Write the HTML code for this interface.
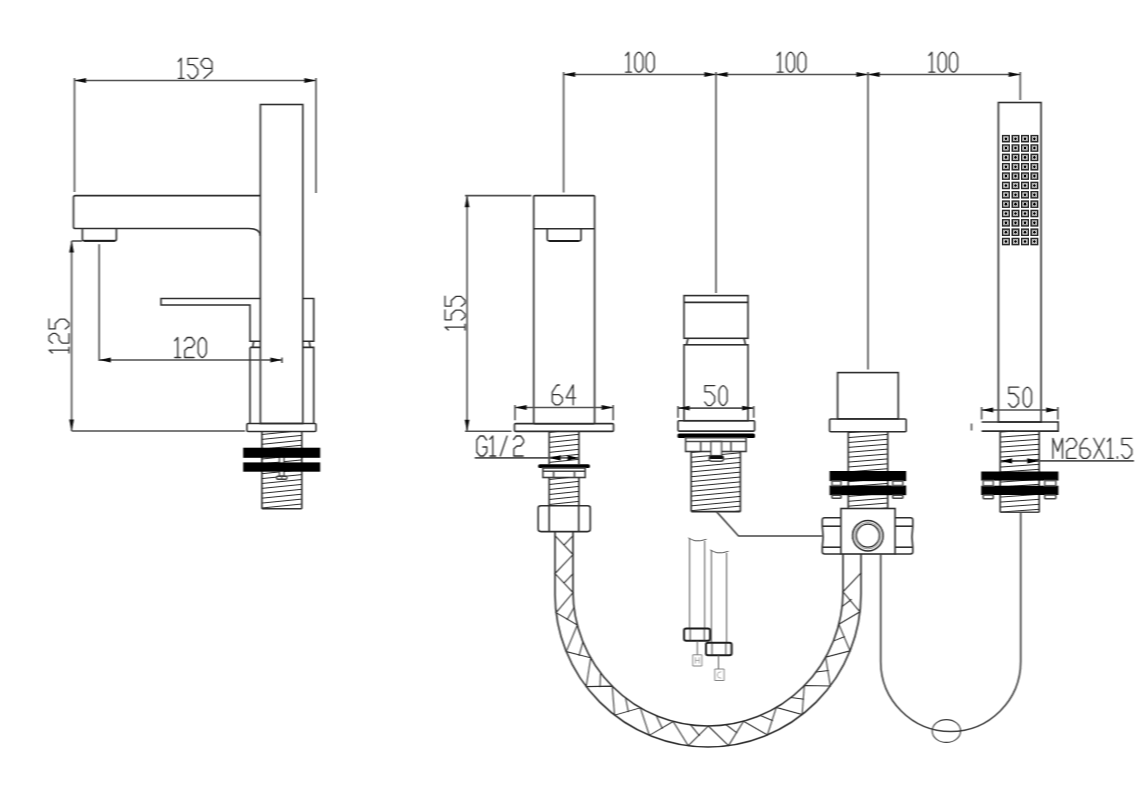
<!DOCTYPE html>
<html><head><meta charset="utf-8"><style>
html,body{margin:0;padding:0;background:#fff;width:1148px;height:793px;overflow:hidden;font-family:"Liberation Sans",sans-serif;}
</style></head><body>
<div style="width:1148px;height:793px">
<svg width="1148" height="793" viewBox="0 0 1148 793" style="display:block">
<defs><filter id="hb" filterUnits="userSpaceOnUse" x="0" y="0" width="1148" height="793"><feConvolveMatrix order="3 1" kernelMatrix="0.25 0.5 0.25" divisor="1" edgeMode="none" preserveAlpha="false"/></filter></defs>
<rect width="1148" height="793" fill="#fff"/>
<g filter="url(#hb)">
<line x1="74.5" y1="80.5" x2="316" y2="80.5" stroke="#515151" stroke-width="1.6"/>
<path d="M74.5 80.5 L86.1 78.1 L86.1 82.9 Z" fill="#111"/>
<path d="M316 80.5 L304.4 82.9 L304.4 78.1 Z" fill="#111"/>
<line x1="74.5" y1="78" x2="74.5" y2="192" stroke="#515151" stroke-width="1.6"/>
<line x1="316" y1="78" x2="316" y2="193" stroke="#515151" stroke-width="1.6"/>
<g transform="translate(178.3 58.3) scale(1)" stroke="#303030" stroke-width="1.3" fill="none" stroke-linecap="round" stroke-linejoin="round"><path transform="translate(0 0)" d="M0 3.3L2.9 0V20M0 20H5.8"/><path transform="translate(9.3 0)" d="M10.3 0H0.4V6.3H5.9L10.1 10.8V16L6.3 20H3.2L0.2 16.3"/><path transform="translate(22.8 0)" d="M10.9 10H3.5L0 6.3V3.7L3.3 0H7.2L10.9 3.7V12.9L3 20"/></g>
<rect x="260.4" y="104.5" width="42.4" height="319" stroke="#2e2e2e" stroke-width="1.6" fill="none" rx="0"/>
<path d="M260.4 195.6H75.3Q73.5 195.6 73.5 197.4V226.7Q73.5 228.5 75.3 228.5H249Q260 228.5 260.4 236" stroke="#2e2e2e" stroke-width="1.6" fill="none" />
<path d="M82.4 228.5V239Q82.4 240.8 84.2 240.8H114.6Q116.4 240.8 116.4 239V228.5" stroke="#2e2e2e" stroke-width="1.6" fill="none" />
<line x1="84" y1="240.8" x2="115" y2="240.8" stroke="#1a1a1a" stroke-width="2.0"/>
<line x1="71.6" y1="241" x2="71.6" y2="431" stroke="#515151" stroke-width="1.6"/>
<path d="M71.6 241 L74 252.6 L69.2 252.6 Z" fill="#111"/>
<path d="M71.6 431 L69.2 419.4 L74 419.4 Z" fill="#111"/>
<line x1="71.6" y1="241" x2="82" y2="241" stroke="#515151" stroke-width="1.6"/>
<line x1="71.6" y1="431" x2="245" y2="431" stroke="#515151" stroke-width="1.6"/>
<g transform="translate(49 353) rotate(-90) scale(1)" stroke="#303030" stroke-width="1.3" fill="none" stroke-linecap="round" stroke-linejoin="round"><path transform="translate(0 0)" d="M0 3.3L2.9 0V20M0 20H5.8"/><path transform="translate(9.5 0)" d="M0.2 3.5L2.9 0H7.3L10.2 3.9V6.4L7.3 10H3.5L0.4 13V20H9.8"/><path transform="translate(23.7 0)" d="M10.3 0H0.4V6.3H5.9L10.1 10.8V16L6.3 20H3.2L0.2 16.3"/></g>
<line x1="99.2" y1="360" x2="282" y2="360" stroke="#515151" stroke-width="1.6"/>
<path d="M99.2 360 L110.8 357.6 L110.8 362.4 Z" fill="#111"/>
<path d="M282 360 L270.4 362.4 L270.4 357.6 Z" fill="#111"/>
<line x1="99.2" y1="244.3" x2="99.2" y2="361" stroke="#515151" stroke-width="1.6"/>
<line x1="282" y1="357.5" x2="282" y2="363" stroke="#515151" stroke-width="1.6"/>
<g transform="translate(174.8 337.5) scale(1)" stroke="#303030" stroke-width="1.3" fill="none" stroke-linecap="round" stroke-linejoin="round"><path transform="translate(0 0)" d="M0 3.3L2.9 0V20M0 20H5.8"/><path transform="translate(9.5 0)" d="M0.2 3.5L2.9 0H7.3L10.2 3.9V6.4L7.3 10H3.5L0.4 13V20H9.8"/><path transform="translate(23.4 0)" d="M4.1 0Q6.3 0.2 8.2 4.8V15.2Q6.3 19.8 4.1 20Q1.9 19.8 0 15.2V4.8Q1.9 0.2 4.1 0Z"/></g>
<path d="M260.4 298.5H161V305H250V341.2H260.4M250 347.4H260.4M250 347.4V423.5" stroke="#2e2e2e" stroke-width="1.6" fill="none" />
<line x1="253.6" y1="341.8" x2="252.8" y2="347" stroke="#2e2e2e" stroke-width="1.6"/>
<path d="M302.8 298.5H313.7V341.2H302.8M302.8 347.4H313.7V423.5" stroke="#2e2e2e" stroke-width="1.6" fill="none" />
<line x1="309.3" y1="341.8" x2="310.1" y2="347" stroke="#2e2e2e" stroke-width="1.6"/>
<rect x="246.9" y="423.5" width="69.1" height="8" stroke="#2e2e2e" stroke-width="1.6" fill="none" rx="1.2"/>
<g stroke="#2a2a2a" stroke-width="1.0">
<line x1="261.9" y1="434.5" x2="291.82" y2="431.5"/>
<line x1="261.9" y1="439.4" x2="301.8" y2="435.4"/>
<line x1="261.9" y1="444.3" x2="301.8" y2="440.3"/>
<line x1="261.9" y1="449.2" x2="301.8" y2="445.2"/>
<line x1="261.9" y1="454.1" x2="301.8" y2="450.1"/>
<line x1="261.9" y1="459" x2="301.8" y2="455"/>
<line x1="261.9" y1="463.9" x2="301.8" y2="459.9"/>
<line x1="261.9" y1="468.8" x2="301.8" y2="464.8"/>
<line x1="261.9" y1="473.7" x2="301.8" y2="469.7"/>
<line x1="261.9" y1="478.6" x2="301.8" y2="474.6"/>
<line x1="261.9" y1="483.5" x2="301.8" y2="479.5"/>
<line x1="261.9" y1="488.4" x2="301.8" y2="484.4"/>
<line x1="261.9" y1="493.3" x2="301.8" y2="489.3"/>
<line x1="261.9" y1="498.2" x2="301.8" y2="494.2"/>
<line x1="261.9" y1="503.1" x2="301.8" y2="499.1"/>
<line x1="261.9" y1="508" x2="301.8" y2="504"/>
</g>
<line x1="261.9" y1="431.5" x2="261.9" y2="508.8" stroke="#2e2e2e" stroke-width="1.6"/>
<line x1="301.8" y1="431.5" x2="301.8" y2="508.8" stroke="#2e2e2e" stroke-width="1.6"/>
<line x1="261.9" y1="508.8" x2="301.8" y2="508.8" stroke="#2e2e2e" stroke-width="1.6"/>
<rect x="279.5" y="455" width="4.3" height="21.3" fill="#fff" rx="0"/>
<rect x="279.5" y="455" width="4.3" height="21.3" stroke="#484848" stroke-width="1.6" fill="none" rx="0"/>
<rect x="276.7" y="476.3" width="10" height="3" fill="#fff" rx="1"/>
<rect x="276.7" y="476.3" width="10" height="3" stroke="#3f3f3f" stroke-width="1.6" fill="none" rx="1"/>
<line x1="281.7" y1="476.5" x2="281.7" y2="479.3" stroke="#5b5b5b" stroke-width="1.6"/>
<rect x="243.2" y="447.7" width="77" height="10.1" fill="#000" rx="0"/>
<rect x="243.2" y="462.4" width="77" height="9.3" fill="#000" rx="0"/>
<line x1="563.6" y1="74.5" x2="1020.3" y2="74.5" stroke="#515151" stroke-width="1.6"/>
<path d="M563.6 74.5 L575.2 72.1 L575.2 76.9 Z" fill="#111"/>
<path d="M716 74.5 L704.4 76.9 L704.4 72.1 Z" fill="#111"/>
<path d="M716 74.5 L727.6 72.1 L727.6 76.9 Z" fill="#111"/>
<path d="M868 74.5 L856.4 76.9 L856.4 72.1 Z" fill="#111"/>
<path d="M868 74.5 L879.6 72.1 L879.6 76.9 Z" fill="#111"/>
<path d="M1020.3 74.5 L1008.7 76.9 L1008.7 72.1 Z" fill="#111"/>
<line x1="563.6" y1="72" x2="563.6" y2="192.5" stroke="#515151" stroke-width="1.6"/>
<line x1="716" y1="72" x2="716" y2="293" stroke="#515151" stroke-width="1.6"/>
<line x1="868" y1="72" x2="868" y2="369.6" stroke="#515151" stroke-width="1.6"/>
<line x1="1020.3" y1="72" x2="1020.3" y2="100" stroke="#515151" stroke-width="1.6"/>
<g transform="translate(625.7 52.2) scale(1)" stroke="#303030" stroke-width="1.3" fill="none" stroke-linecap="round" stroke-linejoin="round"><path transform="translate(0 0)" d="M0 3.3L2.9 0V20M0 20H5.8"/><path transform="translate(9.1 0)" d="M4.1 0Q6.3 0.2 8.2 4.8V15.2Q6.3 19.8 4.1 20Q1.9 19.8 0 15.2V4.8Q1.9 0.2 4.1 0Z"/><path transform="translate(20.4 0)" d="M4.1 0Q6.3 0.2 8.2 4.8V15.2Q6.3 19.8 4.1 20Q1.9 19.8 0 15.2V4.8Q1.9 0.2 4.1 0Z"/></g>
<g transform="translate(777.3 52.2) scale(1)" stroke="#303030" stroke-width="1.3" fill="none" stroke-linecap="round" stroke-linejoin="round"><path transform="translate(0 0)" d="M0 3.3L2.9 0V20M0 20H5.8"/><path transform="translate(9.1 0)" d="M4.1 0Q6.3 0.2 8.2 4.8V15.2Q6.3 19.8 4.1 20Q1.9 19.8 0 15.2V4.8Q1.9 0.2 4.1 0Z"/><path transform="translate(20.4 0)" d="M4.1 0Q6.3 0.2 8.2 4.8V15.2Q6.3 19.8 4.1 20Q1.9 19.8 0 15.2V4.8Q1.9 0.2 4.1 0Z"/></g>
<g transform="translate(929 52.2) scale(1)" stroke="#303030" stroke-width="1.3" fill="none" stroke-linecap="round" stroke-linejoin="round"><path transform="translate(0 0)" d="M0 3.3L2.9 0V20M0 20H5.8"/><path transform="translate(9.1 0)" d="M4.1 0Q6.3 0.2 8.2 4.8V15.2Q6.3 19.8 4.1 20Q1.9 19.8 0 15.2V4.8Q1.9 0.2 4.1 0Z"/><path transform="translate(20.4 0)" d="M4.1 0Q6.3 0.2 8.2 4.8V15.2Q6.3 19.8 4.1 20Q1.9 19.8 0 15.2V4.8Q1.9 0.2 4.1 0Z"/></g>
<rect x="533.7" y="195.6" width="60.9" height="228.1" stroke="#2e2e2e" stroke-width="1.6" fill="none" rx="1"/>
<line x1="533.7" y1="228.7" x2="594.6" y2="228.7" stroke="#2e2e2e" stroke-width="1.6"/>
<path d="M547.3 228.7V239Q547.3 241 549.3 241H579Q581 241 581 239V228.7" stroke="#2e2e2e" stroke-width="1.6" fill="none" />
<line x1="549" y1="241" x2="579" y2="241" stroke="#1a1a1a" stroke-width="2.0"/>
<line x1="467.1" y1="195.6" x2="467.1" y2="431.3" stroke="#515151" stroke-width="1.6"/>
<path d="M467.1 195.6 L469.5 207.2 L464.7 207.2 Z" fill="#111"/>
<path d="M467.1 431.3 L464.7 419.7 L469.5 419.7 Z" fill="#111"/>
<line x1="465" y1="195.6" x2="531.4" y2="195.6" stroke="#515151" stroke-width="1.6"/>
<line x1="465" y1="431.3" x2="511.5" y2="431.3" stroke="#515151" stroke-width="1.6"/>
<g transform="translate(445 330) rotate(-90) scale(1)" stroke="#303030" stroke-width="1.3" fill="none" stroke-linecap="round" stroke-linejoin="round"><path transform="translate(0 0)" d="M0 3.3L2.9 0V20M0 20H5.8"/><path transform="translate(9.8 0)" d="M10.3 0H0.4V6.3H5.9L10.1 10.8V16L6.3 20H3.2L0.2 16.3"/><path transform="translate(23.5 0)" d="M10.3 0H0.4V6.3H5.9L10.1 10.8V16L6.3 20H3.2L0.2 16.3"/></g>
<rect x="514.5" y="423.6" width="99" height="7.8" stroke="#2e2e2e" stroke-width="1.6" fill="none" rx="1.2"/>
<line x1="515" y1="407.5" x2="613.2" y2="407.5" stroke="#515151" stroke-width="1.6"/>
<path d="M515 407.5 L526.6 405.1 L526.6 409.9 Z" fill="#111"/>
<path d="M613.2 407.5 L601.6 409.9 L601.6 405.1 Z" fill="#111"/>
<line x1="515" y1="405" x2="515" y2="420.2" stroke="#515151" stroke-width="1.6"/>
<line x1="613.2" y1="405" x2="613.2" y2="420.2" stroke="#515151" stroke-width="1.6"/>
<g transform="translate(552 384.8) scale(1)" stroke="#303030" stroke-width="1.3" fill="none" stroke-linecap="round" stroke-linejoin="round"><path transform="translate(0 0)" d="M7.4 0.2H5.6Q4.8 0.4 4.2 1.2L0.3 7.3V16.8L3.2 20H7.2L10.4 16.8V13L7.2 9.8H0.3"/><path transform="translate(14.2 0)" d="M7 20V0L0 13H9.5"/></g>
<g stroke="#2a2a2a" stroke-width="1.0">
<line x1="549.2" y1="432.4" x2="558.78" y2="431.4"/>
<line x1="549.2" y1="437.4" x2="578.9" y2="434.3"/>
<line x1="549.2" y1="442.4" x2="578.9" y2="439.3"/>
<line x1="549.2" y1="447.4" x2="578.9" y2="444.3"/>
<line x1="549.2" y1="452.4" x2="578.9" y2="449.3"/>
<line x1="549.2" y1="457.4" x2="578.9" y2="454.3"/>
<line x1="549.2" y1="462.4" x2="578.9" y2="459.3"/>
<line x1="578.9" y1="464.3" x2="578.9" y2="464.3"/>
</g>
<line x1="549.2" y1="431.4" x2="549.2" y2="464.3" stroke="#2e2e2e" stroke-width="1.6"/>
<line x1="578.9" y1="431.4" x2="578.9" y2="464.3" stroke="#2e2e2e" stroke-width="1.6"/>
<line x1="474.7" y1="457.9" x2="549.2" y2="457.9" stroke="#515151" stroke-width="1.6"/>
<line x1="549.2" y1="457.9" x2="578.9" y2="457.9" stroke="#515151" stroke-width="1.6"/>
<path d="M549.6 457.9 L560.6 455.3 L560.6 460.5 Z" fill="#000"/>
<path d="M578.5 457.9 L567.5 460.5 L567.5 455.3 Z" fill="#000"/>
<g transform="translate(476.8 436) scale(1)" stroke="#303030" stroke-width="1.3" fill="none" stroke-linecap="round" stroke-linejoin="round"><path transform="translate(0 0)" d="M9.8 4L6.8 0H3.2L0 4V16L3.2 20H6.8L10 16V11H6"/><path transform="translate(13.1 0)" d="M0 3.3L2.9 0V20M0 20H5.8"/><path transform="translate(23.5 0)" d="M0 20L6.8 0"/><path transform="translate(36.6 0)" d="M0.2 3.5L2.9 0H7.3L10.2 3.9V6.4L7.3 10H3.5L0.4 13V20H9.8"/></g>
<rect x="538.2" y="464.3" width="51.7" height="3.6" fill="#000" rx="1.5"/>
<rect x="542.9" y="468" width="42.3" height="9.5" stroke="#3f3f3f" stroke-width="1.6" fill="none" rx="0"/>
<line x1="542.9" y1="471.2" x2="585.2" y2="471.2" stroke="#484848" stroke-width="1.6"/>
<line x1="553.6" y1="471.2" x2="553.6" y2="477.5" stroke="#484848" stroke-width="1.6"/>
<line x1="574.5" y1="471.2" x2="574.5" y2="477.5" stroke="#484848" stroke-width="1.6"/>
<g stroke="#2a2a2a" stroke-width="1.0">
<line x1="549.2" y1="479.5" x2="568.36" y2="477.5"/>
<line x1="549.2" y1="484.5" x2="578.9" y2="481.4"/>
<line x1="549.2" y1="489.5" x2="578.9" y2="486.4"/>
<line x1="549.2" y1="494.5" x2="578.9" y2="491.4"/>
<line x1="549.2" y1="499.5" x2="578.9" y2="496.4"/>
<line x1="549.2" y1="504.5" x2="578.9" y2="501.4"/>
</g>
<line x1="549.2" y1="477.5" x2="549.2" y2="505.7" stroke="#2e2e2e" stroke-width="1.6"/>
<line x1="578.9" y1="477.5" x2="578.9" y2="505.7" stroke="#2e2e2e" stroke-width="1.6"/>
<rect x="538.2" y="505.7" width="52.1" height="25.9" stroke="#2e2e2e" stroke-width="1.6" fill="none" rx="2.5"/>
<line x1="549.2" y1="505.7" x2="549.2" y2="531.6" stroke="#2e2e2e" stroke-width="1.6"/>
<line x1="578.7" y1="505.7" x2="578.7" y2="531.6" stroke="#2e2e2e" stroke-width="1.6"/>
<rect x="684" y="295.6" width="64" height="42.7" stroke="#2e2e2e" stroke-width="1.6" fill="none" rx="0"/>
<line x1="684" y1="302.4" x2="748" y2="302.4" stroke="#2e2e2e" stroke-width="1.6"/>
<path d="M688 338.3L686.5 344.8M744 338.3L745.5 344.8" stroke="#2e2e2e" stroke-width="1.6" fill="none" />
<rect x="684" y="344.8" width="64" height="75.9" stroke="#2e2e2e" stroke-width="1.6" fill="none" rx="0"/>
<line x1="678" y1="408.1" x2="753.7" y2="408.1" stroke="#515151" stroke-width="1.6"/>
<path d="M678 408.1 L689.6 405.7 L689.6 410.5 Z" fill="#111"/>
<path d="M753.7 408.1 L742.1 410.5 L742.1 405.7 Z" fill="#111"/>
<line x1="678" y1="406" x2="678" y2="417.7" stroke="#515151" stroke-width="1.6"/>
<line x1="753.7" y1="406" x2="753.7" y2="417.7" stroke="#515151" stroke-width="1.6"/>
<g transform="translate(704.5 385.6) scale(1)" stroke="#303030" stroke-width="1.3" fill="none" stroke-linecap="round" stroke-linejoin="round"><path transform="translate(0 0)" d="M10.3 0H0.4V6.3H5.9L10.1 10.8V16L6.3 20H3.2L0.2 16.3"/><path transform="translate(14.5 0)" d="M4.1 0Q6.3 0.2 8.2 4.8V15.2Q6.3 19.8 4.1 20Q1.9 19.8 0 15.2V4.8Q1.9 0.2 4.1 0Z"/></g>
<rect x="678" y="420.7" width="76.6" height="10.4" stroke="#2e2e2e" stroke-width="1.6" fill="none" rx="1"/>
<rect x="677.5" y="433.6" width="77.5" height="4.3" fill="#000" rx="1.5"/>
<rect x="685.6" y="437.7" width="60.5" height="13.8" stroke="#3f3f3f" stroke-width="1.6" fill="none" rx="0"/>
<line x1="685.6" y1="441.5" x2="746.1" y2="441.5" stroke="#484848" stroke-width="1.6"/>
<line x1="700.7" y1="441.5" x2="700.7" y2="451.5" stroke="#484848" stroke-width="1.6"/>
<line x1="731" y1="441.5" x2="731" y2="451.5" stroke="#484848" stroke-width="1.6"/>
<g stroke="#2a2a2a" stroke-width="1.0">
<line x1="691.2" y1="452.5" x2="701.9" y2="451.5"/>
<line x1="691.2" y1="457.35" x2="740.4" y2="452.75"/>
<line x1="691.2" y1="462.2" x2="740.4" y2="457.6"/>
<line x1="691.2" y1="467.05" x2="740.4" y2="462.45"/>
<line x1="691.2" y1="471.9" x2="740.4" y2="467.3"/>
<line x1="691.2" y1="476.75" x2="740.4" y2="472.15"/>
<line x1="691.2" y1="481.6" x2="740.4" y2="477"/>
<line x1="691.2" y1="486.45" x2="740.4" y2="481.85"/>
<line x1="691.2" y1="491.3" x2="740.4" y2="486.7"/>
<line x1="691.2" y1="496.15" x2="740.4" y2="491.55"/>
<line x1="691.2" y1="501" x2="740.4" y2="496.4"/>
<line x1="691.2" y1="505.85" x2="740.4" y2="501.25"/>
<line x1="691.2" y1="510.7" x2="740.4" y2="506.1"/>
<line x1="733.45" y1="511.6" x2="740.4" y2="510.95"/>
</g>
<line x1="691.2" y1="451.5" x2="691.2" y2="511.6" stroke="#2e2e2e" stroke-width="1.6"/>
<line x1="740.4" y1="451.5" x2="740.4" y2="511.6" stroke="#2e2e2e" stroke-width="1.6"/>
<line x1="691.2" y1="511.6" x2="740.4" y2="511.6" stroke="#2e2e2e" stroke-width="1.6"/>
<rect x="711.1" y="441.5" width="10.4" height="14.2" fill="#fff" rx="0"/>
<rect x="711.1" y="441.5" width="10.4" height="14.2" stroke="#484848" stroke-width="1.6" fill="none" rx="0"/>
<rect x="709.3" y="455.7" width="14.1" height="5.6" fill="#fff" rx="2.5"/>
<rect x="709.3" y="455.7" width="14.1" height="5.6" stroke="#484848" stroke-width="1.6" fill="none" rx="2.5"/>
<rect x="709.3" y="455.7" width="14.1" height="3.4" fill="#111" rx="1.5"/>
<path d="M716.5 511.6L738.5 536H822.3" stroke="#484848" stroke-width="1.6" fill="none" />
<rect x="837.6" y="372.6" width="60.7" height="46.2" stroke="#2e2e2e" stroke-width="1.6" fill="none" rx="0"/>
<rect x="829.6" y="419" width="76.6" height="12.7" stroke="#2e2e2e" stroke-width="1.6" fill="none" rx="1"/>
<g stroke="#2a2a2a" stroke-width="1.0">
<line x1="848.3" y1="432.7" x2="860.61" y2="431.7"/>
<line x1="848.3" y1="437.6" x2="887.7" y2="434.4"/>
<line x1="848.3" y1="442.5" x2="887.7" y2="439.3"/>
<line x1="848.3" y1="447.4" x2="887.7" y2="444.2"/>
<line x1="848.3" y1="452.3" x2="887.7" y2="449.1"/>
<line x1="848.3" y1="457.2" x2="887.7" y2="454"/>
<line x1="848.3" y1="462.1" x2="887.7" y2="458.9"/>
<line x1="848.3" y1="467" x2="887.7" y2="463.8"/>
<line x1="848.3" y1="471.9" x2="887.7" y2="468.7"/>
<line x1="848.3" y1="476.8" x2="887.7" y2="473.6"/>
<line x1="848.3" y1="481.7" x2="887.7" y2="478.5"/>
<line x1="848.3" y1="486.6" x2="887.7" y2="483.4"/>
<line x1="848.3" y1="491.5" x2="887.7" y2="488.3"/>
<line x1="848.3" y1="496.4" x2="887.7" y2="493.2"/>
<line x1="848.3" y1="501.3" x2="887.7" y2="498.1"/>
<line x1="848.3" y1="506.2" x2="887.7" y2="503"/>
<line x1="880.31" y1="508.5" x2="887.7" y2="507.9"/>
</g>
<line x1="848.3" y1="431.7" x2="848.3" y2="508.5" stroke="#2e2e2e" stroke-width="1.6"/>
<line x1="887.7" y1="431.7" x2="887.7" y2="508.5" stroke="#2e2e2e" stroke-width="1.6"/>
<rect x="829.6" y="471" width="76.6" height="10.1" fill="#000" rx="0"/>
<rect x="829.6" y="485.5" width="76.6" height="9.7" fill="#000" rx="0"/>
<rect x="832" y="495.2" width="9" height="3" stroke="#484848" stroke-width="1.6" fill="none" rx="0.8"/>
<rect x="832" y="481.1" width="9" height="4.4" stroke="#5b5b5b" stroke-width="1.6" fill="none" rx="0"/>
<rect x="892.7" y="495.2" width="10.1" height="3" stroke="#484848" stroke-width="1.6" fill="none" rx="0.8"/>
<rect x="892.7" y="481.1" width="10.1" height="4.4" stroke="#5b5b5b" stroke-width="1.6" fill="none" rx="0"/>
<rect x="840.9" y="508.5" width="54.2" height="45.5" stroke="#2e2e2e" stroke-width="1.6" fill="none" rx="0"/>
<path d="M840.9 517.8H824.5Q822.3 517.8 822.3 520V526.3Q824 536.7 822.3 547.1V551.8Q822.3 554 824.5 554H840.9" stroke="#2e2e2e" stroke-width="1.6" fill="none" />
<line x1="822.3" y1="526.2" x2="840.9" y2="526.2" stroke="#2e2e2e" stroke-width="1.6"/>
<line x1="822.3" y1="547.2" x2="840.9" y2="547.2" stroke="#2e2e2e" stroke-width="1.6"/>
<path d="M895.1 517.8H910.6Q912.8 517.8 912.8 520V526.3Q911.1 536.7 912.8 547.1V551.8Q912.8 554 910.6 554H895.1" stroke="#2e2e2e" stroke-width="1.6" fill="none" />
<line x1="895.1" y1="526.2" x2="912.8" y2="526.2" stroke="#2e2e2e" stroke-width="1.6"/>
<line x1="895.1" y1="547.2" x2="912.8" y2="547.2" stroke="#2e2e2e" stroke-width="1.6"/>
<circle cx="867.9" cy="535.7" r="15.2" fill="none" stroke="#2a2a2a" stroke-width="1.5"/>
<circle cx="867.9" cy="535.7" r="13.2" fill="none" stroke="#777" stroke-width="0.8"/>
<circle cx="867.9" cy="535.7" r="11.5" fill="none" stroke="#2a2a2a" stroke-width="1.3"/>
<path d="M852.4 539Q851.5 529 858 523.5" fill="none" stroke="#333" stroke-width="1"/>
<rect x="998.4" y="102.5" width="42.7" height="319.5" stroke="#2e2e2e" stroke-width="1.6" fill="none" rx="0"/>
<line x1="981.6" y1="410" x2="1057.8" y2="410" stroke="#515151" stroke-width="1.6"/>
<path d="M981.6 410 L993.2 407.6 L993.2 412.4 Z" fill="#111"/>
<path d="M1057.8 410 L1046.2 412.4 L1046.2 407.6 Z" fill="#111"/>
<line x1="981.6" y1="407" x2="981.6" y2="419.4" stroke="#515151" stroke-width="1.6"/>
<line x1="1057.8" y1="407" x2="1057.8" y2="419.4" stroke="#515151" stroke-width="1.6"/>
<g transform="translate(1008.4 387.2) scale(1)" stroke="#303030" stroke-width="1.3" fill="none" stroke-linecap="round" stroke-linejoin="round"><path transform="translate(0 0)" d="M10.3 0H0.4V6.3H5.9L10.1 10.8V16L6.3 20H3.2L0.2 16.3"/><path transform="translate(14.9 0)" d="M4.1 0Q6.3 0.2 8.2 4.8V15.2Q6.3 19.8 4.1 20Q1.9 19.8 0 15.2V4.8Q1.9 0.2 4.1 0Z"/></g>
<path d="M981.6 422H1058.2V431.1H981.6" stroke="#2e2e2e" stroke-width="1.6" fill="none" />
<line x1="971.5" y1="423.5" x2="971.5" y2="430.5" stroke="#515151" stroke-width="1.6"/>
<g stroke="#2a2a2a" stroke-width="1.0">
<line x1="1000.2" y1="432.1" x2="1014.13" y2="431.1"/>
<line x1="1000.2" y1="437.1" x2="1039.2" y2="434.3"/>
<line x1="1000.2" y1="442.1" x2="1039.2" y2="439.3"/>
<line x1="1000.2" y1="447.1" x2="1039.2" y2="444.3"/>
<line x1="1000.2" y1="452.1" x2="1039.2" y2="449.3"/>
<line x1="1000.2" y1="457.1" x2="1039.2" y2="454.3"/>
<line x1="1000.2" y1="462.1" x2="1039.2" y2="459.3"/>
<line x1="1000.2" y1="467.1" x2="1039.2" y2="464.3"/>
<line x1="1000.2" y1="472.1" x2="1039.2" y2="469.3"/>
<line x1="1000.2" y1="477.1" x2="1039.2" y2="474.3"/>
<line x1="1000.2" y1="482.1" x2="1039.2" y2="479.3"/>
<line x1="1000.2" y1="487.1" x2="1039.2" y2="484.3"/>
<line x1="1000.2" y1="492.1" x2="1039.2" y2="489.3"/>
<line x1="1000.2" y1="497.1" x2="1039.2" y2="494.3"/>
<line x1="1000.2" y1="502.1" x2="1039.2" y2="499.3"/>
<line x1="1000.2" y1="507.1" x2="1039.2" y2="504.3"/>
<line x1="1000.2" y1="512.1" x2="1039.2" y2="509.3"/>
</g>
<line x1="1000.2" y1="431.1" x2="1000.2" y2="512.2" stroke="#2e2e2e" stroke-width="1.6"/>
<line x1="1039.2" y1="431.1" x2="1039.2" y2="512.2" stroke="#2e2e2e" stroke-width="1.6"/>
<path d="M1000.2 512.2H1039.2" stroke="#484848" stroke-width="1.6" fill="none" />
<line x1="1000.2" y1="460.9" x2="1134" y2="460.9" stroke="#515151" stroke-width="1.6"/>
<path d="M1000.6 460.9 L1012.1 458.3 L1012.1 463.5 Z" fill="#000"/>
<path d="M1038.8 460.9 L1027.3 463.5 L1027.3 458.3 Z" fill="#000"/>
<g transform="translate(1052.9 438.3) scale(1)" stroke="#303030" stroke-width="1.3" fill="none" stroke-linecap="round" stroke-linejoin="round"><path transform="translate(0 0)" d="M0 20V0L4.8 13L9.6 0V20"/><path transform="translate(13.4 0)" d="M0.2 3.5L2.9 0H7.3L10.2 3.9V6.4L7.3 10H3.5L0.4 13V20H9.8"/><path transform="translate(26.9 0)" d="M7.4 0.2H5.6Q4.8 0.4 4.2 1.2L0.3 7.3V16.8L3.2 20H7.2L10.4 16.8V13L7.2 9.8H0.3"/><path transform="translate(40.9 0)" d="M0 0L10.4 20M10.4 0L0 20"/><path transform="translate(54.6 0)" d="M0 3.3L2.9 0V20M0 20H5.8"/><path transform="translate(63.9 0)" d="M0.6 18.4V20"/><path transform="translate(68.7 0)" d="M10.3 0H0.4V6.3H5.9L10.1 10.8V16L6.3 20H3.2L0.2 16.3"/></g>
<rect x="981.2" y="471.5" width="77.2" height="9.1" fill="#000" rx="0"/>
<rect x="981.2" y="485.7" width="77.2" height="9.3" fill="#000" rx="0"/>
<rect x="983.2" y="495" width="10.1" height="3.7" stroke="#484848" stroke-width="1.6" fill="none" rx="0.8"/>
<rect x="983.2" y="480.6" width="10.1" height="5.1" stroke="#5b5b5b" stroke-width="1.6" fill="none" rx="0"/>
<rect x="1044.7" y="495" width="11.1" height="3.7" stroke="#484848" stroke-width="1.6" fill="none" rx="0.8"/>
<rect x="1044.7" y="480.6" width="11.1" height="5.1" stroke="#5b5b5b" stroke-width="1.6" fill="none" rx="0"/>
<path d="M1020.7 512.2V661.5A70 70 0 0 1 880.7 661.5V554" stroke="#3f3f3f" stroke-width="1.6" fill="none" />
<ellipse cx="946.4" cy="731" rx="14.2" ry="11.4" fill="none" stroke="#3a3a3a" stroke-width="1.1"/>
<path d="M555 531.6V594A153 153 0 0 0 861 594V554" stroke="#2e2e2e" stroke-width="1.6" fill="none" />
<path d="M573 531.6V591A135 135 0 0 0 843 591V554" stroke="#2e2e2e" stroke-width="1.6" fill="none" />
<g stroke="#2e2e2e" stroke-width="1.05" fill="none" stroke-linejoin="miter">
<path d="M555 535.6 L573 554.6 L555 573.6 L573 592.6 L556.14 612.65 L577.34 624.94 L566.26 651.62 L590.71 657.85 L586.2 686.59 L612.21 686.13 L614.57 715.16 L640.34 707.82 L649.4 735.33 L673.15 721.43 L688.3 745.73 L708.38 726 L728.56 745.61 L743.58 721.23 L767.39 735 L776.32 707.44 L802.11 714.63 L804.32 685.59 L830.32 685.91 L825.66 657.19 L850.06 650.82 L838.85 624.21 L859.96 611.8 L843 591.79 L861 572.79"/>
<line x1="573" y1="535.6" x2="564" y2="545.1"/>
<line x1="573" y1="573.6" x2="564" y2="583.1"/>
<line x1="574.01" y1="607.46" x2="566.96" y2="619.96"/>
<line x1="582.94" y1="641.84" x2="579.01" y2="655.8"/>
<line x1="600.53" y1="672.7" x2="599.98" y2="687.26"/>
<line x1="625.56" y1="697.9" x2="628.44" y2="712.15"/>
<line x1="656.3" y1="715.71" x2="662.4" y2="728.76"/>
<line x1="690.62" y1="724.88" x2="699.52" y2="735.94"/>
<line x1="726.14" y1="724.78" x2="737.23" y2="733.18"/>
<line x1="760.4" y1="715.41" x2="772.91" y2="720.69"/>
<line x1="791.04" y1="697.44" x2="804.1" y2="699.32"/>
<line x1="815.93" y1="672.09" x2="828.64" y2="670.55"/>
<line x1="833.35" y1="641.13" x2="844.82" y2="636.39"/>
<line x1="842.08" y1="606.7" x2="851.54" y2="599.25"/>
</g>
<path d="M689.6 538.5V628.6M704.7 541V628.6" stroke="#555" stroke-width="1.0" fill="none"/>
<path d="M688.3 537.8Q691 539.5 695 540.8Q700 541.5 706.5 539.3" stroke="#555" stroke-width="1.0" fill="none"/>
<rect x="684.1" y="628.6" width="25.9" height="12.1" stroke="#1a1a1a" stroke-width="2.0" fill="none" rx="2"/>
<path d="M690.2 628.6V640.7M704.3 628.6V640.7" stroke="#333" stroke-width="1.0" fill="none"/>
<path d="M697.3 640.7V654.8" stroke="#555" stroke-width="1.0" fill="none"/>
<path d="M692.8 654.8H701.9V666H692.8Z" stroke="#777" stroke-width="0.9" fill="none"/>
<path d="M695.5 657.3V663.5M699.2 657.3V663.5M695.5 660.4H699.2" stroke="#888" stroke-width="0.7" fill="none"/>
<path d="M711.4 550.5V642.7M726.6 553V642.7" stroke="#555" stroke-width="1.0" fill="none"/>
<path d="M710.1 549.8Q713 551.5 717 552.8Q722 553.5 728.5 551.3" stroke="#555" stroke-width="1.0" fill="none"/>
<rect x="706" y="642.7" width="25.6" height="12.6" stroke="#1a1a1a" stroke-width="2.0" fill="none" rx="2"/>
<path d="M712 642.7V655.3M725.8 642.7V655.3" stroke="#333" stroke-width="1.0" fill="none"/>
<path d="M718.5 655.3V669" stroke="#555" stroke-width="1.0" fill="none"/>
<path d="M714.8 669H724.1V680.5H714.8Z" stroke="#777" stroke-width="0.9" fill="none"/>
<path d="M721.3 671.8Q717.3 671.5 717.3 675Q717.3 678.5 721.3 678.2" stroke="#888" stroke-width="0.7" fill="none"/>
</g>
<rect x="1002.65" y="135.65" width="6.5" height="6.1" fill="#fff" stroke="#2a2a2a" stroke-width="1.5"/>
<rect x="1003.95" y="136.95" width="3.9" height="3.5" fill="none" stroke="#999" stroke-width="0.8"/>
<circle cx="1005.9" cy="138.7" r="1.3" fill="#000"/>
<rect x="1012.25" y="135.65" width="6.5" height="6.1" fill="#fff" stroke="#2a2a2a" stroke-width="1.5"/>
<rect x="1013.55" y="136.95" width="3.9" height="3.5" fill="none" stroke="#999" stroke-width="0.8"/>
<circle cx="1015.5" cy="138.7" r="1.3" fill="#000"/>
<rect x="1021.75" y="135.65" width="6.5" height="6.1" fill="#fff" stroke="#2a2a2a" stroke-width="1.5"/>
<rect x="1023.05" y="136.95" width="3.9" height="3.5" fill="none" stroke="#999" stroke-width="0.8"/>
<circle cx="1025" cy="138.7" r="1.3" fill="#000"/>
<rect x="1031.15" y="135.65" width="6.5" height="6.1" fill="#fff" stroke="#2a2a2a" stroke-width="1.5"/>
<rect x="1032.45" y="136.95" width="3.9" height="3.5" fill="none" stroke="#999" stroke-width="0.8"/>
<circle cx="1034.4" cy="138.7" r="1.3" fill="#000"/>
<rect x="1002.65" y="145" width="6.5" height="6.1" fill="#fff" stroke="#2a2a2a" stroke-width="1.5"/>
<rect x="1003.95" y="146.3" width="3.9" height="3.5" fill="none" stroke="#999" stroke-width="0.8"/>
<circle cx="1005.9" cy="148.05" r="1.3" fill="#000"/>
<rect x="1012.25" y="145" width="6.5" height="6.1" fill="#fff" stroke="#2a2a2a" stroke-width="1.5"/>
<rect x="1013.55" y="146.3" width="3.9" height="3.5" fill="none" stroke="#999" stroke-width="0.8"/>
<circle cx="1015.5" cy="148.05" r="1.3" fill="#000"/>
<rect x="1021.75" y="145" width="6.5" height="6.1" fill="#fff" stroke="#2a2a2a" stroke-width="1.5"/>
<rect x="1023.05" y="146.3" width="3.9" height="3.5" fill="none" stroke="#999" stroke-width="0.8"/>
<circle cx="1025" cy="148.05" r="1.3" fill="#000"/>
<rect x="1031.15" y="145" width="6.5" height="6.1" fill="#fff" stroke="#2a2a2a" stroke-width="1.5"/>
<rect x="1032.45" y="146.3" width="3.9" height="3.5" fill="none" stroke="#999" stroke-width="0.8"/>
<circle cx="1034.4" cy="148.05" r="1.3" fill="#000"/>
<rect x="1002.65" y="154.35" width="6.5" height="6.1" fill="#fff" stroke="#2a2a2a" stroke-width="1.5"/>
<rect x="1003.95" y="155.65" width="3.9" height="3.5" fill="none" stroke="#999" stroke-width="0.8"/>
<circle cx="1005.9" cy="157.4" r="1.3" fill="#000"/>
<rect x="1012.25" y="154.35" width="6.5" height="6.1" fill="#fff" stroke="#2a2a2a" stroke-width="1.5"/>
<rect x="1013.55" y="155.65" width="3.9" height="3.5" fill="none" stroke="#999" stroke-width="0.8"/>
<circle cx="1015.5" cy="157.4" r="1.3" fill="#000"/>
<rect x="1021.75" y="154.35" width="6.5" height="6.1" fill="#fff" stroke="#2a2a2a" stroke-width="1.5"/>
<rect x="1023.05" y="155.65" width="3.9" height="3.5" fill="none" stroke="#999" stroke-width="0.8"/>
<circle cx="1025" cy="157.4" r="1.3" fill="#000"/>
<rect x="1031.15" y="154.35" width="6.5" height="6.1" fill="#fff" stroke="#2a2a2a" stroke-width="1.5"/>
<rect x="1032.45" y="155.65" width="3.9" height="3.5" fill="none" stroke="#999" stroke-width="0.8"/>
<circle cx="1034.4" cy="157.4" r="1.3" fill="#000"/>
<rect x="1002.65" y="163.7" width="6.5" height="6.1" fill="#fff" stroke="#2a2a2a" stroke-width="1.5"/>
<rect x="1003.95" y="165" width="3.9" height="3.5" fill="none" stroke="#999" stroke-width="0.8"/>
<circle cx="1005.9" cy="166.75" r="1.3" fill="#000"/>
<rect x="1012.25" y="163.7" width="6.5" height="6.1" fill="#fff" stroke="#2a2a2a" stroke-width="1.5"/>
<rect x="1013.55" y="165" width="3.9" height="3.5" fill="none" stroke="#999" stroke-width="0.8"/>
<circle cx="1015.5" cy="166.75" r="1.3" fill="#000"/>
<rect x="1021.75" y="163.7" width="6.5" height="6.1" fill="#fff" stroke="#2a2a2a" stroke-width="1.5"/>
<rect x="1023.05" y="165" width="3.9" height="3.5" fill="none" stroke="#999" stroke-width="0.8"/>
<circle cx="1025" cy="166.75" r="1.3" fill="#000"/>
<rect x="1031.15" y="163.7" width="6.5" height="6.1" fill="#fff" stroke="#2a2a2a" stroke-width="1.5"/>
<rect x="1032.45" y="165" width="3.9" height="3.5" fill="none" stroke="#999" stroke-width="0.8"/>
<circle cx="1034.4" cy="166.75" r="1.3" fill="#000"/>
<rect x="1002.65" y="173.05" width="6.5" height="6.1" fill="#fff" stroke="#2a2a2a" stroke-width="1.5"/>
<rect x="1003.95" y="174.35" width="3.9" height="3.5" fill="none" stroke="#999" stroke-width="0.8"/>
<circle cx="1005.9" cy="176.1" r="1.3" fill="#000"/>
<rect x="1012.25" y="173.05" width="6.5" height="6.1" fill="#fff" stroke="#2a2a2a" stroke-width="1.5"/>
<rect x="1013.55" y="174.35" width="3.9" height="3.5" fill="none" stroke="#999" stroke-width="0.8"/>
<circle cx="1015.5" cy="176.1" r="1.3" fill="#000"/>
<rect x="1021.75" y="173.05" width="6.5" height="6.1" fill="#fff" stroke="#2a2a2a" stroke-width="1.5"/>
<rect x="1023.05" y="174.35" width="3.9" height="3.5" fill="none" stroke="#999" stroke-width="0.8"/>
<circle cx="1025" cy="176.1" r="1.3" fill="#000"/>
<rect x="1031.15" y="173.05" width="6.5" height="6.1" fill="#fff" stroke="#2a2a2a" stroke-width="1.5"/>
<rect x="1032.45" y="174.35" width="3.9" height="3.5" fill="none" stroke="#999" stroke-width="0.8"/>
<circle cx="1034.4" cy="176.1" r="1.3" fill="#000"/>
<rect x="1002.65" y="182.4" width="6.5" height="6.1" fill="#fff" stroke="#2a2a2a" stroke-width="1.5"/>
<rect x="1003.95" y="183.7" width="3.9" height="3.5" fill="none" stroke="#999" stroke-width="0.8"/>
<circle cx="1005.9" cy="185.45" r="1.3" fill="#000"/>
<rect x="1012.25" y="182.4" width="6.5" height="6.1" fill="#fff" stroke="#2a2a2a" stroke-width="1.5"/>
<rect x="1013.55" y="183.7" width="3.9" height="3.5" fill="none" stroke="#999" stroke-width="0.8"/>
<circle cx="1015.5" cy="185.45" r="1.3" fill="#000"/>
<rect x="1021.75" y="182.4" width="6.5" height="6.1" fill="#fff" stroke="#2a2a2a" stroke-width="1.5"/>
<rect x="1023.05" y="183.7" width="3.9" height="3.5" fill="none" stroke="#999" stroke-width="0.8"/>
<circle cx="1025" cy="185.45" r="1.3" fill="#000"/>
<rect x="1031.15" y="182.4" width="6.5" height="6.1" fill="#fff" stroke="#2a2a2a" stroke-width="1.5"/>
<rect x="1032.45" y="183.7" width="3.9" height="3.5" fill="none" stroke="#999" stroke-width="0.8"/>
<circle cx="1034.4" cy="185.45" r="1.3" fill="#000"/>
<rect x="1002.65" y="191.75" width="6.5" height="6.1" fill="#fff" stroke="#2a2a2a" stroke-width="1.5"/>
<rect x="1003.95" y="193.05" width="3.9" height="3.5" fill="none" stroke="#999" stroke-width="0.8"/>
<circle cx="1005.9" cy="194.8" r="1.3" fill="#000"/>
<rect x="1012.25" y="191.75" width="6.5" height="6.1" fill="#fff" stroke="#2a2a2a" stroke-width="1.5"/>
<rect x="1013.55" y="193.05" width="3.9" height="3.5" fill="none" stroke="#999" stroke-width="0.8"/>
<circle cx="1015.5" cy="194.8" r="1.3" fill="#000"/>
<rect x="1021.75" y="191.75" width="6.5" height="6.1" fill="#fff" stroke="#2a2a2a" stroke-width="1.5"/>
<rect x="1023.05" y="193.05" width="3.9" height="3.5" fill="none" stroke="#999" stroke-width="0.8"/>
<circle cx="1025" cy="194.8" r="1.3" fill="#000"/>
<rect x="1031.15" y="191.75" width="6.5" height="6.1" fill="#fff" stroke="#2a2a2a" stroke-width="1.5"/>
<rect x="1032.45" y="193.05" width="3.9" height="3.5" fill="none" stroke="#999" stroke-width="0.8"/>
<circle cx="1034.4" cy="194.8" r="1.3" fill="#000"/>
<rect x="1002.65" y="201.1" width="6.5" height="6.1" fill="#fff" stroke="#2a2a2a" stroke-width="1.5"/>
<rect x="1003.95" y="202.4" width="3.9" height="3.5" fill="none" stroke="#999" stroke-width="0.8"/>
<circle cx="1005.9" cy="204.15" r="1.3" fill="#000"/>
<rect x="1012.25" y="201.1" width="6.5" height="6.1" fill="#fff" stroke="#2a2a2a" stroke-width="1.5"/>
<rect x="1013.55" y="202.4" width="3.9" height="3.5" fill="none" stroke="#999" stroke-width="0.8"/>
<circle cx="1015.5" cy="204.15" r="1.3" fill="#000"/>
<rect x="1021.75" y="201.1" width="6.5" height="6.1" fill="#fff" stroke="#2a2a2a" stroke-width="1.5"/>
<rect x="1023.05" y="202.4" width="3.9" height="3.5" fill="none" stroke="#999" stroke-width="0.8"/>
<circle cx="1025" cy="204.15" r="1.3" fill="#000"/>
<rect x="1031.15" y="201.1" width="6.5" height="6.1" fill="#fff" stroke="#2a2a2a" stroke-width="1.5"/>
<rect x="1032.45" y="202.4" width="3.9" height="3.5" fill="none" stroke="#999" stroke-width="0.8"/>
<circle cx="1034.4" cy="204.15" r="1.3" fill="#000"/>
<rect x="1002.65" y="210.45" width="6.5" height="6.1" fill="#fff" stroke="#2a2a2a" stroke-width="1.5"/>
<rect x="1003.95" y="211.75" width="3.9" height="3.5" fill="none" stroke="#999" stroke-width="0.8"/>
<circle cx="1005.9" cy="213.5" r="1.3" fill="#000"/>
<rect x="1012.25" y="210.45" width="6.5" height="6.1" fill="#fff" stroke="#2a2a2a" stroke-width="1.5"/>
<rect x="1013.55" y="211.75" width="3.9" height="3.5" fill="none" stroke="#999" stroke-width="0.8"/>
<circle cx="1015.5" cy="213.5" r="1.3" fill="#000"/>
<rect x="1021.75" y="210.45" width="6.5" height="6.1" fill="#fff" stroke="#2a2a2a" stroke-width="1.5"/>
<rect x="1023.05" y="211.75" width="3.9" height="3.5" fill="none" stroke="#999" stroke-width="0.8"/>
<circle cx="1025" cy="213.5" r="1.3" fill="#000"/>
<rect x="1031.15" y="210.45" width="6.5" height="6.1" fill="#fff" stroke="#2a2a2a" stroke-width="1.5"/>
<rect x="1032.45" y="211.75" width="3.9" height="3.5" fill="none" stroke="#999" stroke-width="0.8"/>
<circle cx="1034.4" cy="213.5" r="1.3" fill="#000"/>
<rect x="1002.65" y="219.8" width="6.5" height="6.1" fill="#fff" stroke="#2a2a2a" stroke-width="1.5"/>
<rect x="1003.95" y="221.1" width="3.9" height="3.5" fill="none" stroke="#999" stroke-width="0.8"/>
<circle cx="1005.9" cy="222.85" r="1.3" fill="#000"/>
<rect x="1012.25" y="219.8" width="6.5" height="6.1" fill="#fff" stroke="#2a2a2a" stroke-width="1.5"/>
<rect x="1013.55" y="221.1" width="3.9" height="3.5" fill="none" stroke="#999" stroke-width="0.8"/>
<circle cx="1015.5" cy="222.85" r="1.3" fill="#000"/>
<rect x="1021.75" y="219.8" width="6.5" height="6.1" fill="#fff" stroke="#2a2a2a" stroke-width="1.5"/>
<rect x="1023.05" y="221.1" width="3.9" height="3.5" fill="none" stroke="#999" stroke-width="0.8"/>
<circle cx="1025" cy="222.85" r="1.3" fill="#000"/>
<rect x="1031.15" y="219.8" width="6.5" height="6.1" fill="#fff" stroke="#2a2a2a" stroke-width="1.5"/>
<rect x="1032.45" y="221.1" width="3.9" height="3.5" fill="none" stroke="#999" stroke-width="0.8"/>
<circle cx="1034.4" cy="222.85" r="1.3" fill="#000"/>
<rect x="1002.65" y="229.15" width="6.5" height="6.1" fill="#fff" stroke="#2a2a2a" stroke-width="1.5"/>
<rect x="1003.95" y="230.45" width="3.9" height="3.5" fill="none" stroke="#999" stroke-width="0.8"/>
<circle cx="1005.9" cy="232.2" r="1.3" fill="#000"/>
<rect x="1012.25" y="229.15" width="6.5" height="6.1" fill="#fff" stroke="#2a2a2a" stroke-width="1.5"/>
<rect x="1013.55" y="230.45" width="3.9" height="3.5" fill="none" stroke="#999" stroke-width="0.8"/>
<circle cx="1015.5" cy="232.2" r="1.3" fill="#000"/>
<rect x="1021.75" y="229.15" width="6.5" height="6.1" fill="#fff" stroke="#2a2a2a" stroke-width="1.5"/>
<rect x="1023.05" y="230.45" width="3.9" height="3.5" fill="none" stroke="#999" stroke-width="0.8"/>
<circle cx="1025" cy="232.2" r="1.3" fill="#000"/>
<rect x="1031.15" y="229.15" width="6.5" height="6.1" fill="#fff" stroke="#2a2a2a" stroke-width="1.5"/>
<rect x="1032.45" y="230.45" width="3.9" height="3.5" fill="none" stroke="#999" stroke-width="0.8"/>
<circle cx="1034.4" cy="232.2" r="1.3" fill="#000"/>
<rect x="1002.65" y="238.5" width="6.5" height="6.1" fill="#fff" stroke="#2a2a2a" stroke-width="1.5"/>
<rect x="1003.95" y="239.8" width="3.9" height="3.5" fill="none" stroke="#999" stroke-width="0.8"/>
<circle cx="1005.9" cy="241.55" r="1.3" fill="#000"/>
<rect x="1012.25" y="238.5" width="6.5" height="6.1" fill="#fff" stroke="#2a2a2a" stroke-width="1.5"/>
<rect x="1013.55" y="239.8" width="3.9" height="3.5" fill="none" stroke="#999" stroke-width="0.8"/>
<circle cx="1015.5" cy="241.55" r="1.3" fill="#000"/>
<rect x="1021.75" y="238.5" width="6.5" height="6.1" fill="#fff" stroke="#2a2a2a" stroke-width="1.5"/>
<rect x="1023.05" y="239.8" width="3.9" height="3.5" fill="none" stroke="#999" stroke-width="0.8"/>
<circle cx="1025" cy="241.55" r="1.3" fill="#000"/>
<rect x="1031.15" y="238.5" width="6.5" height="6.1" fill="#fff" stroke="#2a2a2a" stroke-width="1.5"/>
<rect x="1032.45" y="239.8" width="3.9" height="3.5" fill="none" stroke="#999" stroke-width="0.8"/>
<circle cx="1034.4" cy="241.55" r="1.3" fill="#000"/>
</svg>
</div>
</body></html>
